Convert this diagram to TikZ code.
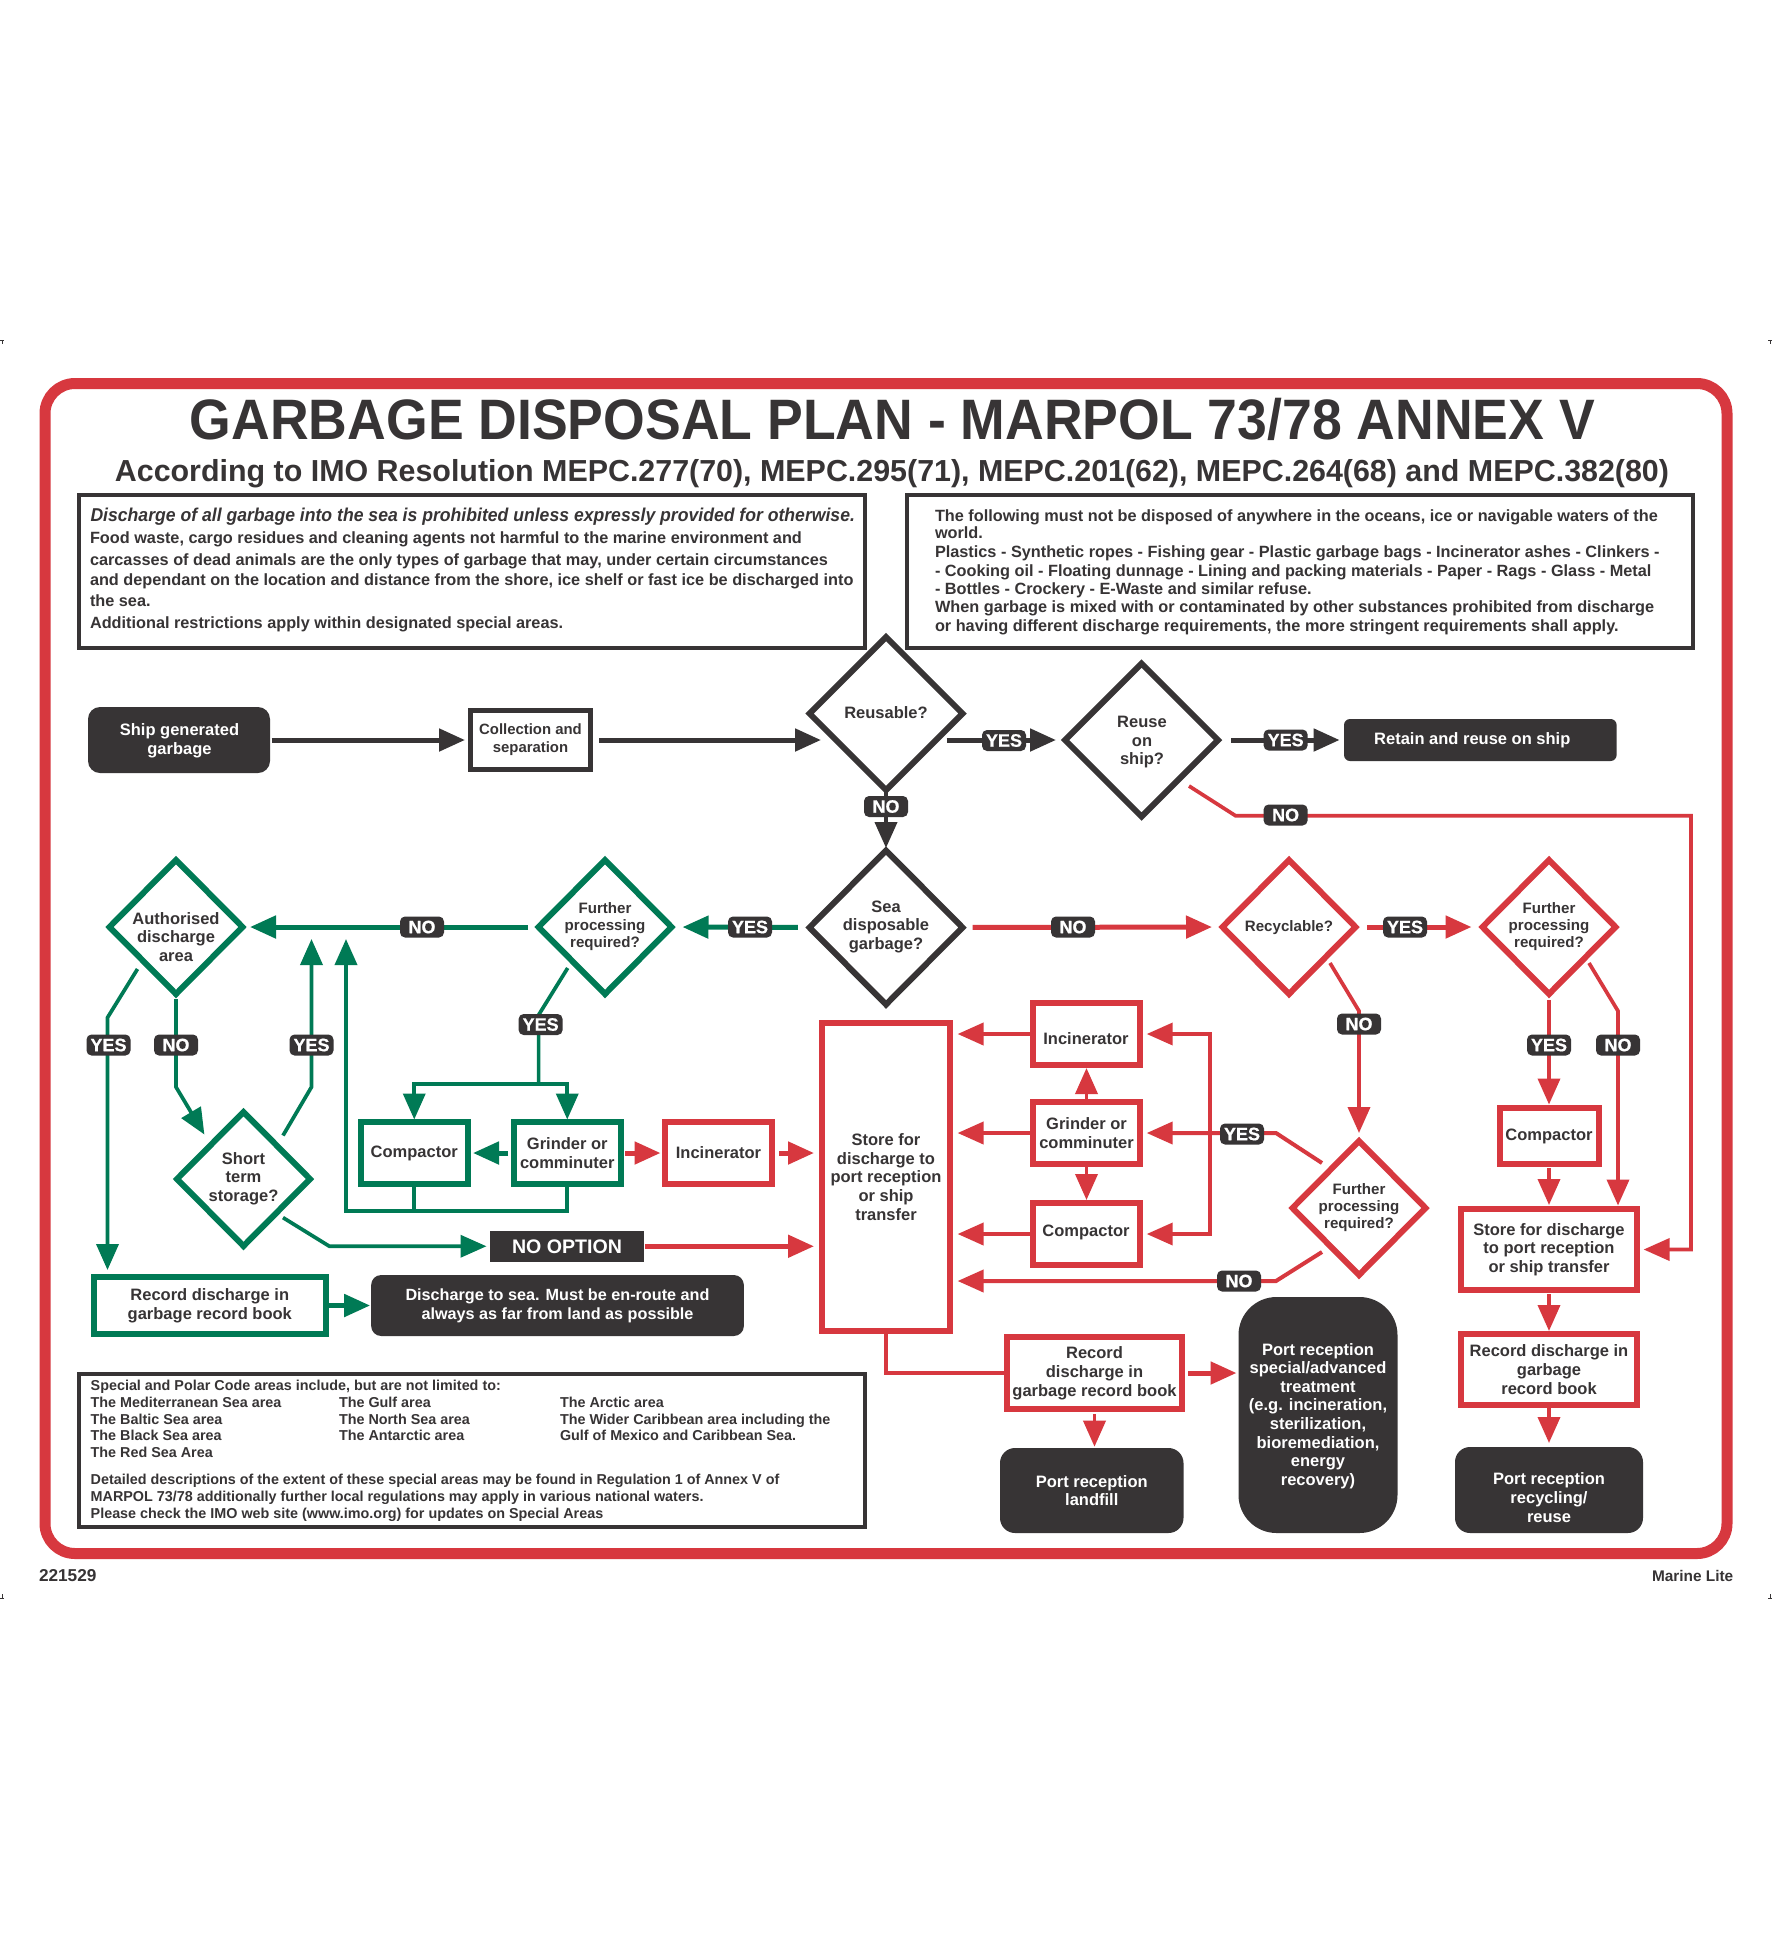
\documentclass[tikz,border=0pt]{standalone}
\usepackage{fontspec}
\setmainfont{Liberation Sans}
\newfontfamily\pillfont[FakeBold=0.6]{Liberation Sans Bold}
\usetikzlibrary{arrows.meta,shapes.geometric}
\definecolor{dk}{HTML}{373435}
\definecolor{rd}{HTML}{D7383F}
\definecolor{gn}{HTML}{007A55}
\newcommand{\fsz}[2]{\bfseries\fontsize{#1}{#2}\selectfont}
\newcommand{\tline}[5][]{\node[anchor=base west,inner sep=0,outer sep=0,text=dk,#1] (#2) at (#3,#4) {#5};}
\tikzset{
  tx/.style={font=\fsz{16.5}{18.6},text=dk,align=center,inner sep=0,outer sep=0},
  dt/.style={tx,yshift=-1.2pt},
  ft/.style={dt,font=\fsz{15.1}{17}},
  txw/.style={tx,text=white},
  frameb/.style={draw=dk,line width=4,fill=white,minimum width=#1,outer sep=0,inner sep=0},
  dbox/.style={fill=dk,txw},
  rbox/.style={draw=rd,line width=6,tx},
  gbox/.style={draw=gn,line width=6,tx},
  dia/.style={shape=diamond,line width=6,outer sep=0,inner sep=0,shape aspect=1},
  pill/.style={fill=dk,text=white,font=\pillfont\fontsize{18}{20}\selectfont,rounded corners=5,minimum width=44,minimum height=21,inner sep=0,outer sep=0},
  tipb/.style={-{Triangle[length=26pt,width=22pt]}},
  dkc/.style={draw=dk,line width=5,line join=miter},
  gnc/.style={draw=gn,line width=3.7,line join=miter},
  gnk/.style={draw=gn,line width=5},
  rdc/.style={draw=rd,line width=3.7,line join=miter},
  rdk/.style={draw=rd,line width=5},
  bodyt/.style={font=\fsz{16.28}{18}},
  boxt/.style={font=\fsz{14.36}{17}},
}
\begin{document}
\begin{tikzpicture}[x=1pt,y=-1pt]
\useasboundingbox (0,0) rectangle (1772,1939);
\fill[white] (0,0) rectangle (1772,1939);
% crop marks
\draw[dk,line width=.8] (0,340)--(4,340) (2,340)--(2,344) (1768,340)--(1772,340) (1770,340)--(1770,344)
  (0,1598)--(4,1598) (2,1598)--(2,1594) (1768,1598)--(1772,1598) (1770,1598)--(1770,1594);
% outer frame
\node[draw=rd,line width=11,rounded corners=30,minimum width=1682,minimum height=1170,outer sep=0] (frame) at (886,968.5) {};
% titles
\node[font=\fsz{57}{60},text=dk,inner sep=0,anchor=base] (title) at (892.5,439) {\scalebox{0.94}[1]{GARBAGE DISPOSAL PLAN - MARPOL 73/78 ANNEX V}};
\node[font=\fsz{30.4}{32},text=dk,inner sep=0,anchor=base] (subtitle) at (892,481) {According to IMO Resolution MEPC.277(70), MEPC.295(71), MEPC.201(62), MEPC.264(68) and MEPC.382(80)};
% info boxes
\node[frameb=786.5,minimum height=153] (leftbox) at (471.75,571.5) {};
\node[frameb=785.6,minimum height=153] (rightbox) at (1299.8,571.5) {};
\node[frameb=786.5,minimum height=153] (botbox) at (471.75,1450.5) {};
\tline[font=\bfseries\itshape\fontsize{18.6}{22}\selectfont]{l0}{90.5}{521.5}{\scalebox{0.947}[1]{Discharge of all garbage into the sea is prohibited unless expressly provided for otherwise.}}
\tline[bodyt]{l1}{90}{543}{Food waste, cargo residues and cleaning agents not harmful to the marine environment and}
\tline[bodyt]{l2}{90}{565}{carcasses of dead animals are the only types of garbage that may, under certain circumstances}
\tline[bodyt]{l3}{90}{585.7}{and dependant on the location and distance from the shore, ice shelf or fast ice be discharged into}
\tline[bodyt]{l4}{90}{606.7}{the sea.}
\tline[bodyt]{l5}{90}{628.3}{Additional restrictions apply within designated special areas.}
\tline[bodyt]{r0}{935}{521}{The following must not be disposed of anywhere in the oceans, ice or navigable waters of the}
\tline[bodyt]{r1}{935}{538.3}{world.}
\tline[bodyt]{r2}{935}{557.7}{Plastics - Synthetic ropes - Fishing gear - Plastic garbage bags - Incinerator ashes - Clinkers -}
\tline[bodyt]{r3}{935}{576}{- Cooking oil - Floating dunnage - Lining and packing materials - Paper - Rags - Glass - Metal}
\tline[bodyt]{r4}{935}{594}{- Bottles - Crockery - E-Waste and similar refuse.}
\tline[bodyt]{r5}{935}{612.7}{When garbage is mixed with or contaminated by other substances prohibited from discharge}
\tline[bodyt]{r6}{935}{631.7}{or having different discharge requirements, the more stringent requirements shall apply.}
\tline[boxt]{b0}{90.7}{1390.7}{Special and Polar Code areas include, but are not limited to:}
\tline[boxt]{b1}{90.7}{1407.7}{The Mediterranean Sea area}
\tline[boxt]{b2}{90.7}{1424}{The Baltic Sea area}
\tline[boxt]{b3}{90.7}{1440.7}{The Black Sea area}
\tline[boxt]{b4}{90.7}{1457}{The Red Sea Area}
\tline[boxt]{b5}{339}{1407.7}{The Gulf area}
\tline[boxt]{b6}{339}{1424}{The North Sea area}
\tline[boxt]{b7}{339}{1440.7}{The Antarctic area}
\tline[boxt]{b8}{560}{1407.7}{The Arctic area}
\tline[boxt]{b9}{560}{1424}{The Wider Caribbean area including the}
\tline[boxt]{b10}{560}{1440.7}{Gulf of Mexico and Caribbean Sea.}
\tline[boxt]{b11}{90.7}{1484}{Detailed descriptions of the extent of these special areas may be found in Regulation 1 of Annex V of}
\tline[boxt]{b12}{90.7}{1501}{MARPOL 73/78 additionally further local regulations may apply in various national waters.}
\tline[boxt]{b13}{90.7}{1518.7}{Please check the IMO web site (www.imo.org) for updates on Special Areas}
\tline[font=\fsz{17.2}{18}]{code}{39}{1581.7}{221529}
\node[font=\fsz{15.4}{18},text=dk,inner sep=0,anchor=base east] (brand) at (1733.5,1581.7) {Marine Lite};
% dark boxes
\node[dbox,rounded corners=12,minimum width=182,minimum height=66] (ship) at (179,740) {}; 
\node[txw,yshift=-1pt] (shipt) at (179.5,740) {Ship generated\\garbage};
\node[draw=dk,line width=5,tx,font=\fsz{14.9}{18},minimum width=120,minimum height=59] (coll) at (530.5,740) {Collection and\\separation};
\node[dbox,rounded corners=6,minimum width=272.6,minimum height=42] (retain) at (1480.3,740) {Retain and reuse on ship\hspace*{16pt}};
\node[dbox,font=\fsz{16.2}{18.6},rounded corners=10,minimum width=372.7,minimum height=61] (seaD) at (557.5,1305.5) {Discharge to sea. Must be en-route and\\always as far from land as possible};
\node[fill=dk,text=white,font=\fsz{19.6}{22},minimum width=154,minimum height=30.5,inner sep=0,outer sep=0] (noopt) at (567,1246.25) {NO OPTION};
\node[dbox,rounded corners=38,minimum width=159,minimum height=236] (special) at (1318,1415) {};
\node[txw] (specialt) at (1318,1416) {Port reception\\special/advanced\\treatment\\(e.g. incineration,\\sterilization,\\bioremediation,\\energy\\recovery)};
\node[dbox,rounded corners=15,minimum width=183.5,minimum height=85] (landfill) at (1091.75,1490.5) {Port reception\\landfill};
\node[dbox,rounded corners=15,minimum width=188,minimum height=86] (recyc) at (1549,1490) {};
\node[txw] (recyct) at (1549,1497.5) {Port reception\\recycling/\\reuse};
% diamonds
\node[dia,draw=dk,minimum width=153,minimum height=153] (reusable) at (886,713.5) {};
\node[tx] (reusablet) at (886,713) {Reusable?};
\node[dia,draw=dk,minimum width=153,minimum height=153] (reuse) at (1141.5,740) {};
\node[dt] (reuset) at (1142,741) {Reuse\\on\\ship?};
\node[dia,draw=dk,minimum width=153,minimum height=154] (sea) at (886,927.5) {};
\node[dt] (seat) at (886,925.5) {Sea\\disposable\\garbage?};
\node[dia,draw=rd,minimum width=133,minimum height=134] (rc) at (1289,927) {};
\node[ft] (rct) at (1289,926) {Recyclable?};
\node[dia,draw=rd,minimum width=133,minimum height=134] (fr) at (1549,927) {};
\node[ft] (frt) at (1549,925.5) {Further\\processing\\required?};
\node[dia,draw=gn,minimum width=133,minimum height=134] (fg) at (605,927) {};
\node[ft] (fgt) at (605,925.5) {Further\\processing\\required?};
\node[dia,draw=gn,minimum width=133,minimum height=134] (auth) at (176,927) {};
\node[dt] (autht) at (176,935.5) {Authorised\\discharge\\area};
\node[dia,draw=gn,minimum width=133,minimum height=134] (short) at (243.5,1179) {};
\node[dt] (shortt) at (243.5,1177.5) {Short\\term\\storage?};
\node[dia,draw=rd,minimum width=133,minimum height=134] (fl) at (1359,1208) {};
\node[ft] (flt) at (1359,1206) {Further\\processing\\required?};
% boxes
\node[gbox,minimum width=107,minimum height=62] (compG) at (414.25,1153) {Compactor};
\node[gbox,minimum width=107,minimum height=62] (grinG) at (567.25,1153) {Grinder or\\comminuter};
\node[rbox,minimum width=107,minimum height=62] (inc1) at (718.5,1153) {Incinerator};
\node[rbox,line width=6.5,minimum width=128,minimum height=308] (storeB) at (886,1177) {Store for\\discharge to\\port reception\\or ship\\transfer};
\node[rbox,minimum width=107,minimum height=62] (inc2) at (1086.5,1034) {};
\node[tx] (inc2t) at (1086,1039) {Incinerator};
\node[rbox,minimum width=107,minimum height=62] (grin2) at (1086.5,1133) {Grinder or\\comminuter};
\node[rbox,minimum width=107,minimum height=62] (comp2) at (1086.5,1234) {};
\node[tx] (comp2t) at (1086,1232) {Compactor};
\node[rbox,minimum width=99,minimum height=56.5] (compR) at (1549,1136) {Compactor};
\node[rbox,minimum width=176,minimum height=81] (storeR) at (1549,1249.5) {Store for discharge\\to port reception\\or ship transfer};
\node[rbox,minimum width=176,minimum height=71] (recR) at (1549,1369.5) {Record discharge in\\garbage\\record book};
\node[rbox,minimum width=175,minimum height=72] (recM) at (1094.5,1373) {};
\node[dt] (recMt) at (1094.5,1372) {Record\\discharge in\\garbage record book};
\node[gbox,minimum width=232.4,minimum height=57] (recG) at (209.8,1305.5) {Record discharge in\\garbage record book};
% free connector ends
\foreach \n/\p in {rin/{821,740},rout/{946.5,740},ro1/{1189,786},ro2/{1235.5,815.7},ro3/{1691,815.7},
  fgy/{567.7,968},fgb/{538.6,1015},split/{538.6,1084},loop/{346,1211},loopt/{346,939},
  sy1/{283,1135.5},sy2/{311.5,1087},sy3/{311.5,939},an2/{176,1087},an3/{204.4,1134.5},
  ay1/{137.5,969},ay2/{107.5,1017.6},ay3/{107.5,1270},so1/{283,1217.6},so2/{329.4,1246.25},
  sbn/{814,1246.25},sbi/{814,1153},sb1/{957.6,1034},sb2/{957.6,1133},sb3/{957.6,1234},sb4/{957.6,1281},
  busm/{1210,1133},bust/{1210,1034},busb/{1210,1234},fy1/{1322,1163},fy2/{1276,1133},fn1/{1322,1252},fn2/{1276,1281},
  rn1/{1330,963},rn2/{1359,1011},frn1/{1589,963},frn2/{1618,1011},frn3/{1618,1205.5},
  sl/{811,927},sr/{961,927},ru/{886,792}}
  {\coordinate (\n) at (\p);}
% dark connectors
\draw[dkc,tipb,shorten <=1.5pt,shorten >=5.5pt] (ship.east) -- (coll.west);
\draw[dkc,tipb,shorten <=8.5pt] (coll.east) -- (rin);
\draw[dkc,tipb,shorten >=9pt] (rout) -- (reuse.west);
\draw[dkc,tipb,shorten <=13pt,shorten >=4.4pt] (reuse.east) -- (retain.west);
\draw[dkc,line width=4,tipb,shorten <=2pt,shorten >=2.5pt] (reusable.south) -- (sea.north);
% red from reuse
\draw[rdc,tipb,shorten >=6.6pt] (ro1) -- (ro2) -- (ro3) -- (ro3 |- storeR.east) -- (storeR.east);
% green
\draw[gnk,tipb,shorten <=11.7pt,shorten >=11pt] (sea.west) -- (fg.east);
\draw[gnk,tipb,shorten <=10.5pt,shorten >=7.5pt] (fg.west) -- (auth.east);
\draw[gnc] (fgy) -- (fgb) -- (split);
\draw[gnc,tipb,shorten >=2.5pt] (split) -| (compG.north);
\draw[gnc,tipb,shorten >=2.5pt] (split) -| (grinG.north);
\draw[gnk,tipb,shorten <=5.75pt,shorten >=5.25pt] (grinG.west) -- (compG.east);
\draw[gnc,tipb] (grinG.south) |- (loop) -- (loopt);
\draw[gnc] (compG.south) -- (compG.south |- loop);
\draw[gnc,tipb] (sy1) -- (sy2) -- (sy3);
\draw[gnc,tipb,shorten <=5pt] (auth.south) -- (an2) -- (an3);
\draw[gnc,tipb] (ay1) -- (ay2) -- (ay3);
\draw[gnc,tipb,shorten >=3.5pt] (so1) -- (so2) -- (noopt.west);
\draw[gnk,tipb,shorten <=3pt,shorten >=1pt] (recG.east) -- (seaD.west);
% red
\draw[rdk,tipb,shorten <=4.25pt,shorten >=4.5pt] (grinG.east) -- (inc1.west);
\draw[rdk,tipb,shorten <=7pt] (inc1.east) -- (sbi);
\draw[rdk,tipb,shorten <=1pt] (noopt.east) -- (sbn);
\draw[rdk,tipb,shorten <=10.2pt,shorten >=10.5pt] (sea.east) -- (rc.west);
\draw[rdk,tipb,shorten <=11.5pt,shorten >=11pt] (rc.east) -- (fr.west);
\draw[rdc,tipb,shorten >=8pt] (rn1) -- (rn2) -- (fl.north);
\draw[rdc,tipb,shorten <=6pt,shorten >=3.25pt] (fr.south) -- (compR.north);
\draw[rdc,tipb] (frn1) -- (frn2) -- (frn3);
\draw[rdc,tipb,shorten <=3.75pt,shorten >=4pt] (compR.south) -- (storeR.north);
\draw[rdc,tipb,shorten <=4pt,shorten >=3pt] (storeR.south) -- (recR.north);
\draw[rdc,tipb,shorten <=3pt,shorten >=4pt] (recR.south) -- (recyc.north);
\draw[rdc,line width=4,tipb] (inc2.west) -- (sb1);
\draw[rdc,line width=4,tipb] (grin2.west) -- (sb2);
\draw[rdc,line width=4,tipb] (comp2.west) -- (sb3);
\draw[rdc,tipb,shorten >=6.7pt] (busm) -- (bust) -- (inc2.east);
\draw[rdc,tipb,shorten >=6.7pt] (busm) -- (busb) -- (comp2.east);
\draw[rdc,line width=4,tipb,shorten >=6.7pt] (fy1) -- (fy2) -- (grin2.east);
\draw[rdc,line width=4,tipb] (fn1) -- (fn2) -- (sb4);
\draw[rdc,tipb,shorten >=3pt] (grin2.north) -- (inc2.south);
\draw[rdc,tipb,shorten >=3pt] (grin2.south) -- (comp2.north);
\draw[rdc] (storeB.south) |- (recM.west);
\draw[rdk,tipb,shorten <=6pt,shorten >=2pt] (recM.east) -- (recM.east -| special.west);
\draw[rdc,tipb,shorten <=5pt,shorten >=1.3pt] (recM.south) -- (recM.south |- landfill.north);
% connector labels
\node[pill] (p1) at (886,806.5) {NO};
\node[pill] (p2) at (1004,740.5) {YES};
\node[pill] (p3) at (1285.6,740) {YES};
\node[pill] (p4) at (1285.6,815) {NO};
\node[pill] (p5) at (422,927) {NO};
\node[pill] (p6) at (750,927) {YES};
\node[pill] (p7) at (540.6,1024.5) {YES};
\node[pill] (p8) at (108.5,1045) {YES};
\node[pill] (p9) at (176,1045) {NO};
\node[pill] (p10) at (311.5,1045) {YES};
\node[pill] (p11) at (1073,927) {NO};
\node[pill] (p12) at (1405,927) {YES};
\node[pill] (p13) at (1359,1024) {NO};
\node[pill] (p14) at (1549,1045) {YES};
\node[pill] (p15) at (1618,1045) {NO};
\node[pill] (p16) at (1242,1134) {YES};
\node[pill] (p17) at (1239,1281) {NO};
\end{tikzpicture}
\end{document}
